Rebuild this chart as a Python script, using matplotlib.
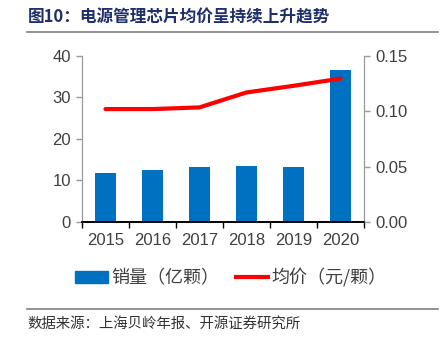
import numpy as np
import matplotlib.pyplot as plt
from matplotlib.lines import Line2D

plt.rcParams['font.family'] = ['Liberation Sans', 'Noto Sans CJK SC', 'DejaVu Sans']

years = ['2015', '2016', '2017', '2018', '2019', '2020']
volume = [11.7, 12.5, 13.2, 13.5, 13.2, 36.5]          # 销量（亿颗）
avg_price = [0.102, 0.102, 0.1035, 0.117, 0.123, 0.1295]  # 均价（元/颗）

title = '图10：电源管理芯片均价呈持续上升趋势'
source = '数据来源：上海贝岭年报、开源证券研究所'

fig = plt.figure(figsize=(4.42, 3.41), dpi=100)
ax = fig.add_axes([0.1855, 0.349, 0.638, 0.487])
ax2 = ax.twinx()

x = np.arange(len(years))
ax.bar(x, volume, width=0.43, color='#0070C0', zorder=2)
ax2.plot(x, avg_price, color='#FF0000', lw=3, solid_capstyle='round', zorder=3)

ax.set_xlim(-0.5, len(years) - 0.5)
ax.set_ylim(0, 40)
ax.set_yticks([0, 10, 20, 30, 40])
ax2.set_ylim(0, 0.15)
ax2.set_yticks([0, 0.05, 0.10, 0.15])
ax2.set_yticklabels(['0.00', '0.05', '0.10', '0.15'])

ax.set_xticks(x)
ax.set_xticklabels(years)
ax.set_xticks(np.arange(-0.5, len(years)), minor=True)
ax.tick_params(axis='x', which='major', length=0, pad=8, labelsize=12, labelcolor='#404040')
ax.tick_params(axis='x', which='minor', length=4, width=1, color='black', direction='out')
ax.tick_params(axis='y', length=4, width=1, color='#999999', labelsize=12, labelcolor='#404040', pad=4)
ax2.tick_params(axis='y', length=4, width=1, color='#999999', labelsize=12, labelcolor='#404040', pad=4)

for a in (ax, ax2):
    a.spines['top'].set_visible(False)
    a.spines['left'].set_color('#999999')
    a.spines['right'].set_color('#999999')
    a.spines['bottom'].set_color('black')
    a.spines['bottom'].set_linewidth(1.2)

handles = [plt.Rectangle((0, 0), 1, 1, color='#0070C0'),
           Line2D([0], [0], color='#FF0000', lw=3)]
fig.legend(handles, ['销量（亿颗）', '均价（元/颗）'], loc='center',
           bbox_to_anchor=(0.523, 0.185), ncol=2, frameon=False,
           prop={'family': ['Noto Sans CJK SC'], 'size': 13},
           handlelength=1.8, handleheight=0.6, columnspacing=0.9, handletextpad=0.2,
           labelcolor='#404040')

fig.text(0.062, 0.948, title, fontsize=12, fontweight='bold', color='#1F2F6B',
         family=['Noto Sans CJK SC'], va='center', ha='left')
fig.add_artist(Line2D([0.062, 0.99], [0.906, 0.906], color='#7F7F7F', lw=1.2))
fig.add_artist(Line2D([0.062, 0.99], [0.094, 0.094], color='#7F7F7F', lw=1.2))
fig.text(0.062, 0.052, source, fontsize=10.4, color='#333333',
         family=['Noto Sans CJK SC'], va='center', ha='left')

fig.savefig('out.png', dpi=100)
